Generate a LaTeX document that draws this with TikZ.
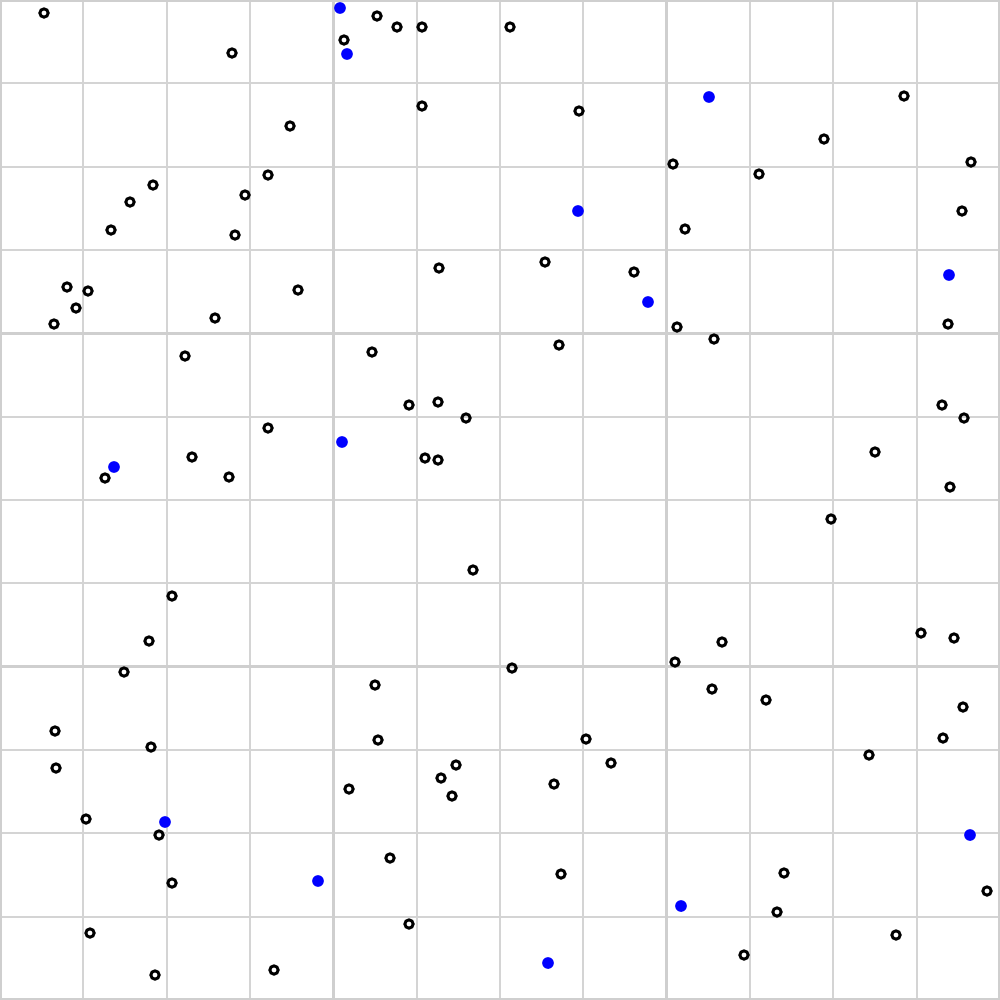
\documentclass[tikz,border=0pt]{standalone}
\begin{document}
\begin{tikzpicture}
  [x=0.012cm,y=-0.012cm,
   every node/.style={circle,inner sep=0pt},
   ring/.style={draw=black,line width=1pt,minimum size=0.1cm},
   hit/.style={fill=blue,minimum size=0.14cm}]
  \useasboundingbox (0,0) rectangle (1000,1000);
  \fill[white] (0,0) rectangle (1000,1000);
  % cell lines
  \foreach \k in {1,2,3,5,6,7,9,10,11}
    \draw[black!17,line width=0.6pt] (\k*83.333,0) -- (\k*83.333,1000)
                                     (0,\k*83.333) -- (1000,\k*83.333);
  % block lines
  \foreach \k in {0,4,8,12}
    \draw[black!19,line width=1.1pt] (\k*83.333,0) -- (\k*83.333,1000)
                                     (0,\k*83.333) -- (1000,\k*83.333);

  \foreach \x/\y [count=\i] in {44/13,232/53,377/16,397/27,422/27,510/27,344/40,422/106,
      579/111,290/126,673/164,759/174,824/139,904/96,971/162,153/185,130/202,268/175,
      245/195,111/230,235/235,685/229,962/211,439/268,545/262,634/272,67/287,88/291,
      76/308,298/290,215/318,54/324,677/327,714/339,948/324,559/345,185/356,372/352,
      409/405,438/402,466/418,268/428,942/405,964/418,192/457,425/458,438/460,105/478,
      229/477,875/452,950/487,831/519,473/570,172/596,149/641,722/642,921/633,954/638,
      124/672,512/668,675/662,375/685,712/689,766/700,963/707,55/731,378/740,586/739,
      943/738,151/747,56/768,456/765,441/778,611/763,869/755,349/789,452/796,554/784,
      86/819,159/835,390/858,561/874,784/873,172/883,987/891,777/912,409/924,90/933,
      896/935,744/955,274/970,155/975}
    \node[ring] (p\i) at (\x,\y) {};

  \foreach \x/\y [count=\i] in {340/8,347/54,709/97,578/211,949/275,648/302,342/442,
      114/467,165/822,318/881,970/835,681/906,548/963}
    \node[hit] (b\i) at (\x,\y) {};

\end{tikzpicture}
\end{document}
